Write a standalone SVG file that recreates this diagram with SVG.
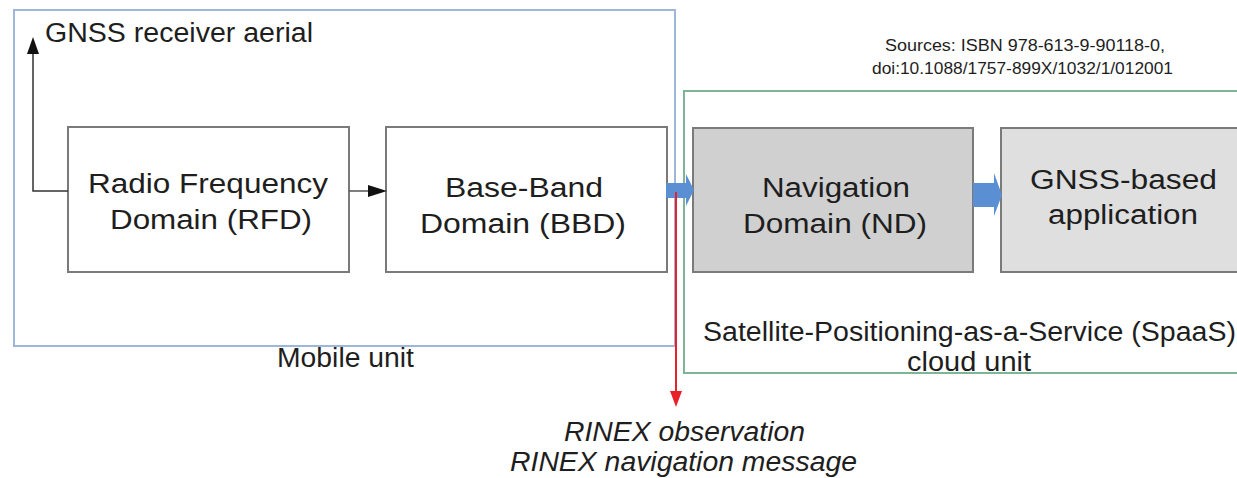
<svg xmlns="http://www.w3.org/2000/svg" width="1237" height="478" viewBox="0 0 1237 478">
<style>
text{font-family:"Liberation Sans",Arial,sans-serif;fill:#1e1e1e;}
.t26{font-size:27px;}
.small{font-size:16px;}
.it{font-style:italic;}
.box{stroke:#7a7a7a;stroke-width:2;}
.cont{fill:none;stroke-width:2;}
</style>
<rect width="1237" height="478" fill="#fff"/>
<g id="mobile-unit">
<rect class="cont" x="14" y="10" width="661" height="336" stroke="#9db6d9"/>
<text class="t26" x="277" y="367" textLength="137" lengthAdjust="spacingAndGlyphs">Mobile unit</text>
</g>
<g id="cloud-unit">
<rect class="cont" x="684" y="91" width="600" height="282" stroke="#7db596"/>
<text class="t26" x="703" y="341" textLength="533" lengthAdjust="spacingAndGlyphs">Satellite-Positioning-as-a-Service (SpaaS)</text>
<text class="t26" x="907" y="371" textLength="124" lengthAdjust="spacingAndGlyphs">cloud unit</text>
</g>
<g id="aerial">
<text class="t26" x="45" y="42" textLength="268" lengthAdjust="spacingAndGlyphs">GNSS receiver aerial</text>
</g>
<g id="sources">
<text class="small" x="885" y="51" textLength="280" lengthAdjust="spacingAndGlyphs">Sources: ISBN 978-613-9-90118-0,</text>
<text class="small" x="872" y="74" textLength="301" lengthAdjust="spacingAndGlyphs">doi:10.1088/1757-899X/1032/1/012001</text>
</g>
<g id="rfd">
<rect class="box" x="68" y="127" width="281" height="145" fill="#fff"/>
<text class="t26" x="88" y="193" textLength="240" lengthAdjust="spacingAndGlyphs">Radio Frequency</text>
<text class="t26" x="110" y="229" textLength="202" lengthAdjust="spacingAndGlyphs">Domain (RFD)</text>
</g>
<g id="bbd">
<rect class="box" x="386" y="127" width="281" height="145" fill="#fff"/>
<text class="t26" x="445" y="197" textLength="158" lengthAdjust="spacingAndGlyphs">Base-Band</text>
<text class="t26" x="420" y="233" textLength="206" lengthAdjust="spacingAndGlyphs">Domain (BBD)</text>
</g>
<g id="nd">
<rect class="box" x="693" y="128" width="280" height="144" fill="#d0d0d0"/>
<text class="t26" x="762" y="197" textLength="148" lengthAdjust="spacingAndGlyphs">Navigation</text>
<text class="t26" x="743" y="233" textLength="184" lengthAdjust="spacingAndGlyphs">Domain (ND)</text>
</g>
<g id="app">
<rect class="box" x="1001" y="128" width="260" height="144" fill="#dfdfdf"/>
<text class="t26" x="1030" y="189" textLength="187" lengthAdjust="spacingAndGlyphs">GNSS-based</text>
<text class="t26" x="1048" y="224" textLength="150" lengthAdjust="spacingAndGlyphs">application</text>
</g>
<g id="rinex">
<text class="t26 it" x="564" y="441" textLength="241" lengthAdjust="spacingAndGlyphs">RINEX observation</text>
<text class="t26 it" x="510" y="471" textLength="347" lengthAdjust="spacingAndGlyphs">RINEX navigation message</text>
</g>
<g id="connectors">
<polyline points="68,191 33,191 33,50" fill="none" stroke="#333" stroke-width="1.5"/>
<polygon points="33,37 27,54 39,54" fill="#111"/>
<line x1="349" y1="191" x2="370" y2="191" stroke="#555" stroke-width="1.5"/>
<polygon points="368,185 387,191 368,197" fill="#111"/>
<polygon points="666,183 686,183 686,174 694,190 686,206 686,198 666,198" fill="#5b8fd4"/>
<polygon points="973,183 994,183 994,173 1002,195 994,216 994,207 973,207" fill="#5b8fd4"/>
<line x1="676" y1="192" x2="676" y2="394" stroke="#e8202a" stroke-width="2"/>
<polygon points="670,391 682,391 676,407" fill="#e8202a"/>
</g>
</svg>
